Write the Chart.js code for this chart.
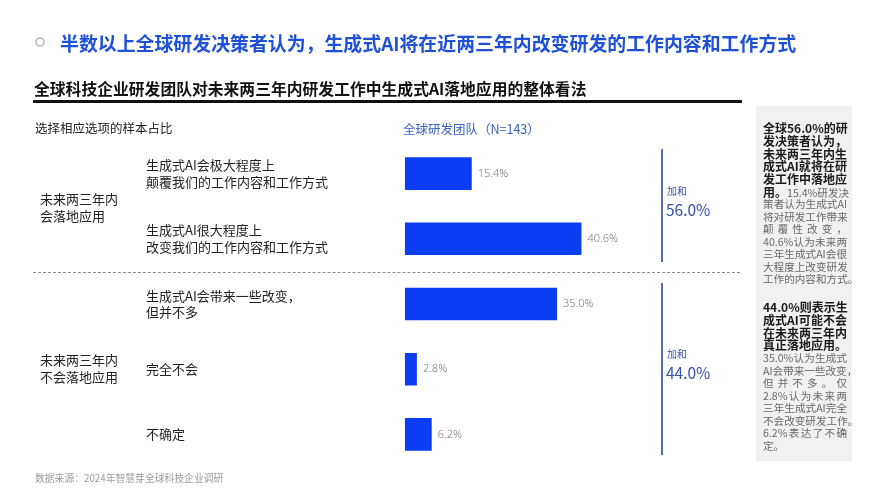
<!DOCTYPE html>
<html lang="zh-CN">
<head>
<meta charset="utf-8">
<title>生成式AI落地应用的整体看法</title>
<script src="https://cdn.jsdelivr.net/npm/chart.js@4.4.1/dist/chart.umd.min.js"></script>
<style>
    html, body { margin: 0; padding: 0; background: #fff; }
    body { width: 889px; height: 500px; position: relative; overflow: hidden;
           font-family: "Noto Sans CJK SC", "Noto Sans", sans-serif; color: #222; }
    #chartCanvas { position: absolute; left: 0; top: 0; }
    .abs { position: absolute; white-space: nowrap; }
    .title { left: 60px; top: 29px; font-size: 18.9px; font-weight: 700; color: #1f50d8; line-height: 28px; }
    .ring { left: 35px; top: 37px; width: 6px; height: 6px; border: 2.5px solid #c4c4c4; border-radius: 50%; }
    .sub { left: 34px; top: 78px; font-size: 15.8px; font-weight: 700; color: #111; line-height: 22px; }
    .rule { left: 33px; top: 100px; width: 709px; height: 3px; background: #111; }
    .note { font-size: 12.5px; line-height: 16px; }
    .dash { left: 33px; top: 272px; width: 707px; border-top: 1px dashed #8a8a8a; }
    .group { left: 40px; font-size: 13px; line-height: 16.5px; color: #222; }
    .sumline { width: 2px; left: 661px; background: #5a6cb3; }
    .sumhead { left: 667px; font-size: 10px; color: #3e55a8; line-height: 12px; }
    .sumval { left: 666px; font-size: 15.5px; color: #3450a8; line-height: 18px; }
    .box { left: 756px; top: 106px; width: 96px; height: 355px; background: #f1f1f1; }
    .para { left: 763px; width: 84px; }
    .para div { height: 12.5px; line-height: 12.5px; font-size: 10.6px; color: #6a6a6a;
                text-align: justify; text-align-last: justify; white-space: nowrap; }
    .para div.b { height: 12.8px; line-height: 12.8px; font-size: 12px; font-weight: 700; color: #1a1a1a; }
    .para div.end { text-align-last: left; }
    .para b { font-size: 12px; color: #1a1a1a; }
    .foot { left: 35px; top: 471px; font-size: 9.8px; color: #9a9a9a; line-height: 14px; }
</style>
</head>
<body>
<canvas id="chartCanvas" width="889" height="500"></canvas>

<div class="abs ring"></div>
<div class="abs title">半数以上全球研发决策者认为，生成式AI将在近两三年内改变研发的工作内容和工作方式</div>
<div class="abs sub">全球科技企业研发团队对未来两三年内研发工作中生成式AI落地应用的整体看法</div>
<div class="abs rule"></div>

<div class="abs note" style="left:35px; top:120px; color:#222;">选择相应选项的样本占比</div>
<div class="abs note" style="left:403px; top:121px; color:#3b62c2;">全球研发团队（N=143）</div>

<div class="abs box"></div>
<div class="abs dash"></div>
<div id="overlay"></div>

<div class="abs foot">数据来源：2024年智慧芽全球科技企业调研</div>

<script>
    const categories = [
        ['生成式AI会极大程度上', '颠覆我们的工作内容和工作方式'],
        ['生成式AI很大程度上', '改变我们的工作内容和工作方式'],
        ['生成式AI会带来一些改变，', '但并不多'],
        '完全不会',
        '不确定'
    ];
    const shares = [15.4, 40.6, 35.0, 2.8, 6.2];

    const groupLabels = [['未来两三年内', '会落地应用'], ['未来两三年内', '不会落地应用']];
    const sumLabels = ['56.0%', '44.0%'];

    const noteLines1 = [
        ['b', '全球56.0%的研'],
        ['b', '发决策者认为，'],
        ['b', '未来两三年内生'],
        ['b', '成式AI就将在研'],
        ['b', '发工作中落地应'],
        ['m', '<b>用。</b>15.4%研发决'],
        ['', '策者认为生成式AI'],
        ['', '将对研发工作带来'],
        ['', '颠覆性改变，'],
        ['', '40.6%认为未来两'],
        ['', '三年生成式AI会很'],
        ['', '大程度上改变研发'],
        ['', '工作的内容和方式。']
    ];
    const noteLines2 = [
        ['b', '44.0%则表示生'],
        ['b', '成式AI可能不会'],
        ['b', '在未来两三年内'],
        ['b end', '真正落地应用。'],
        ['', '35.0%认为生成式'],
        ['', 'AI会带来一些改变，'],
        ['', '但并不多。仅'],
        ['', '2.8%认为未来两'],
        ['', '三年生成式AI完全'],
        ['', '不会改变研发工作。'],
        ['', '6.2%表达了不确'],
        ['end', '定。']
    ];

    // 左侧分组、加和、右侧说明
    const overlay = document.getElementById('overlay');
    function addDiv(cls, top, html, extra) {
        const d = document.createElement('div');
        d.className = 'abs ' + cls;
        d.style.top = top + 'px';
        if (extra) Object.assign(d.style, extra);
        d.innerHTML = html;
        overlay.appendChild(d);
        return d;
    }
    addDiv('group', 191, groupLabels[0].join('<br>'));
    addDiv('group', 352, groupLabels[1].join('<br>'));
    addDiv('sumline', 149, '', { height: '113px' });
    addDiv('sumline', 283, '', { height: '172px' });
    addDiv('sumhead', 185, '加和');
    addDiv('sumval', 200, sumLabels[0]);
    addDiv('sumhead', 348, '加和');
    addDiv('sumval', 363, sumLabels[1]);

    function addPara(top, lines) {
        const p = addDiv('para', top, '');
        lines.forEach(function (l) {
            const d = document.createElement('div');
            if (l[0] && l[0] !== 'm') d.className = l[0];
            d.innerHTML = l[1];
            p.appendChild(d);
        });
    }
    addPara(122, noteLines1);
    addPara(301, noteLines2);

    const valueLabels = {
        id: 'valueLabels',
        afterDatasetsDraw(chart) {
            const ctx = chart.ctx;
            const meta = chart.getDatasetMeta(0);
            ctx.save();
            ctx.font = '300 11px "Noto Sans", "Noto Sans CJK SC", sans-serif';
            ctx.fillStyle = '#7a7a7a';
            ctx.textAlign = 'left';
            ctx.textBaseline = 'middle';
            meta.data.forEach(function (bar, i) {
                ctx.fillText(shares[i].toFixed(1) + '%', bar.x + 6, bar.y);
            });
            ctx.restore();
        }
    };

    Chart.defaults.font.family = '"Noto Sans CJK SC", "Noto Sans", sans-serif';

    const ctx = document.getElementById('chartCanvas').getContext('2d');
    new Chart(ctx, {
        type: 'bar',
        data: {
            labels: categories,
            datasets: [{
                data: shares,
                backgroundColor: '#0b3ef2',
                borderWidth: 0,
                categoryPercentage: 1,
                barPercentage: 0.5
            }]
        },
        options: {
            indexAxis: 'y',
            responsive: false,
            animation: false,
            layout: { padding: { left: 146, top: 141, bottom: 33, right: 136 } },
            plugins: { legend: { display: false }, tooltip: { enabled: false } },
            scales: {
                x: { display: false, min: 0, max: 80 },
                y: {
                    grid: { display: false },
                    border: { display: false },
                    afterFit: function (scale) { scale.width = 258.7; },
                    ticks: {
                        crossAlign: 'far',
                        color: '#222',
                        font: { size: 13, lineHeight: 1.28 }
                    }
                }
            }
        },
        plugins: [valueLabels]
    });
</script>
</body>
</html>
